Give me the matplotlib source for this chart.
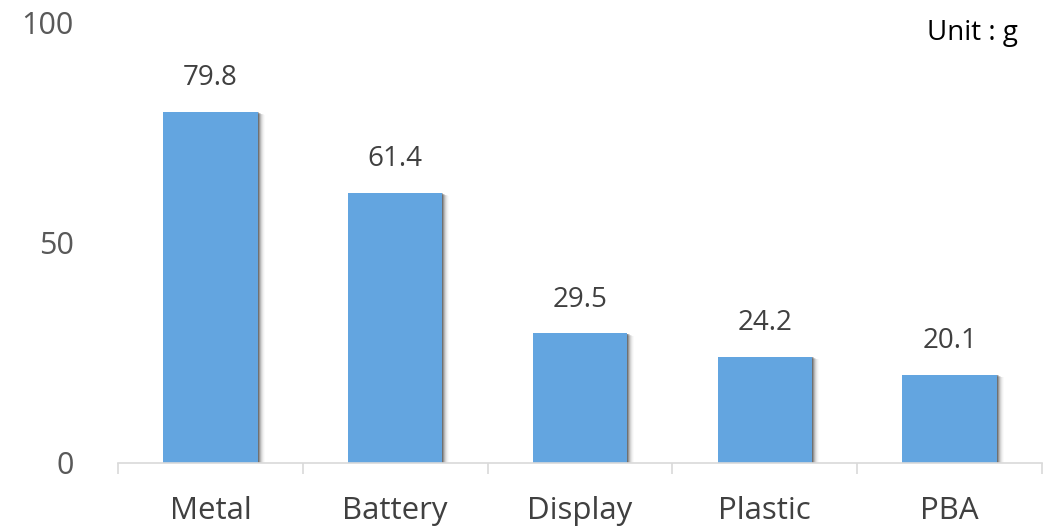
import matplotlib
matplotlib.use("Agg")
import matplotlib.pyplot as plt
import matplotlib.transforms as mtransforms
import numpy as np

categories = ["Metal", "Battery", "Display", "Plastic", "PBA"]
values = [79.8, 61.4, 29.5, 24.2, 20.1]
yticks = [0, 50, 100]

plt.rcParams['font.family'] = ['Open Sans', 'DejaVu Sans']

fig = plt.figure(figsize=(10.58, 5.27), dpi=100)
ax = fig.add_axes([118/1058, 64/527, (1042-118)/1058, (463-23)/527])

x = np.arange(len(categories))
width = 0.51
color = "#63A5E0"

# soft shadow layers
for dx, a in [(1, 0.25), (2, 0.18), (3, 0.12), (4, 0.08), (5, 0.05), (6, 0.03), (7, 0.02)]:
    off = mtransforms.offset_copy(ax.transData, fig=fig, x=dx * 0.72, y=-dx * 0.3, units='points')
    ax.bar(x, values, width=width, color="black", alpha=a, transform=off, zorder=1, linewidth=0)
ax.bar(x, values, width=width, color=color, zorder=2, linewidth=0)

for xi, v in zip(x, values):
    ax.annotate(f"{v}", (xi, v), xytext=(0, 14), textcoords="offset points",
                ha="center", va="bottom", fontsize=20, color="#404040")

ax.set_xlim(-0.5, len(categories) - 0.5)
ax.set_ylim(0, 100)
ax.set_yticks(yticks)
ax.set_yticklabels([str(t) for t in yticks], fontsize=22, color="#595959")
ax.tick_params(axis='y', length=0, pad=32)

ax.set_xticks(x)
ax.set_xticklabels(categories, fontsize=22.5, color="#404040")
ax.tick_params(axis='x', which='major', length=0, pad=24)
ax.set_xticks(np.arange(len(categories) + 1) - 0.5, minor=True)
ax.tick_params(axis='x', which='minor', length=8, color="#D9D9D9", width=1.2)

for s in ["top", "right", "left"]:
    ax.spines[s].set_visible(False)
ax.spines["bottom"].set_color("#D9D9D9")
ax.spines["bottom"].set_linewidth(1.2)
ax.spines["bottom"].set_zorder(3)

fig.text(1018/1058, 1 - 33/527, "Unit : g", ha="right", va="center", fontsize=20, color="black")

fig.savefig("out.png", dpi=100)
